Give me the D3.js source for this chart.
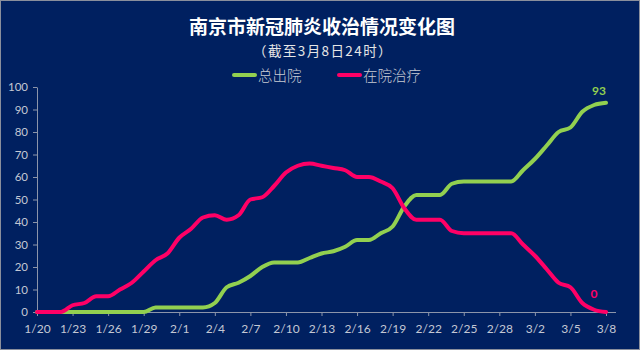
<!DOCTYPE html>
<html><head><meta charset="utf-8">
<script src="https://cdn.jsdelivr.net/npm/d3@7"></script>
<style>html,body{margin:0;padding:0;background:#002060;}svg{display:block;}</style>
</head><body>
<svg id="chart" width="640" height="350"></svg>
<script>
const dates = ["1/20","1/21","1/22","1/23","1/24","1/25","1/26","1/27","1/28","1/29","1/30","1/31",
"2/1","2/2","2/3","2/4","2/5","2/6","2/7","2/8","2/9","2/10","2/11","2/12","2/13","2/14","2/15","2/16","2/17","2/18","2/19","2/20","2/21","2/22","2/23","2/24","2/25","2/26","2/27","2/28","2/29",
"3/1","3/2","3/3","3/4","3/5","3/6","3/7","3/8"];
const discharged = [0,0,0,0,0,0,0,0,0,0,2,2,2,2,2,4,11,13,16,20,22,22,22,24,26,27,29,32,32,35,38,47,52,52,52,57,58,58,58,58,58,63,68,74,80,82,89,92,93];
const inHospital = [0,0,0,3,4,7,7,10,13,18,23,26,33,37,42,43,41,43,50,51,56,62,65,66,65,64,63,60,60,58,55,46,41,41,41,36,35,35,35,35,35,30,25,19,13,11,4,1,0];
const seriesNames = ["总出院","在院治疗"];
const yTicks = [0,10,20,30,40,50,60,70,80,90,100];
const xTickLabels = dates.filter((d,i)=>i%3===0);
const colors = ["#92d050","#ff0066"];

const svg = d3.select("#chart");
svg.append("rect").attr("x",0.5).attr("y",0.5).attr("width",639).attr("height",349)
  .attr("fill","#002060").attr("stroke","#8a8f9c").attr("stroke-width",1);

svg.append("text").attr("x",322).attr("y",34).attr("text-anchor","middle")
  .attr("font-family","Noto Sans CJK SC").attr("font-weight","bold").attr("font-size",19)
  .attr("fill","#ffffff").text("南京市新冠肺炎收治情况变化图");
svg.append("text").attr("x",323).attr("y",56).attr("text-anchor","middle")
  .attr("font-family","Noto Sans CJK SC").attr("font-weight","normal").attr("font-size",13.5)
  .attr("letter-spacing",1.4)
  .attr("fill","#e6e6e6").text("（截至3月8日24时）");

const x = d3.scalePoint().domain(dates).range([37,606]);
const y = d3.scaleLinear().domain([0,100]).range([312,87]);

const axisColor = "#8c95aa";
const labelColor = "#c4c8d4";

// Y axis
const yAxis = svg.append("g").attr("transform","translate(37,0)")
  .call(d3.axisLeft(y).tickValues(yTicks).tickSize(4).tickSizeOuter(0).tickPadding(5));
yAxis.selectAll("path,line").attr("stroke",axisColor);
yAxis.selectAll("text").attr("fill",labelColor).attr("font-family","Lato").attr("font-size",11.5);

// X axis
const xAxis = svg.append("g").attr("transform","translate(0,312)")
  .call(d3.axisBottom(x).tickValues(xTickLabels).tickSize(4).tickSizeOuter(0).tickPadding(8));
xAxis.select(".domain").attr("d","M37,0.5H616");
xAxis.selectAll("path,line").attr("stroke",axisColor);
xAxis.selectAll("text").attr("fill",labelColor).attr("font-family","Lato").attr("font-size",12);

// Lines
const series = [discharged, inHospital];
const line = d3.line().x((d,i)=>x(dates[i])).y(d=>y(d)).curve(d3.curveMonotoneX);
series.forEach((s,k)=>{
  svg.append("path").datum(s).attr("d",line).attr("fill","none")
    .attr("stroke",colors[k]).attr("stroke-width",4).attr("stroke-linejoin","round").attr("stroke-linecap","round");
});

// End labels
const last = dates.length-1;
svg.append("text").attr("x",x(dates[last])-7).attr("y",y(discharged[last])-8)
  .attr("text-anchor","middle").attr("font-family","Lato").attr("font-weight","bold").attr("font-size",12)
  .attr("fill",colors[0]).text(discharged[last]);
svg.append("text").attr("x",x(dates[last])-12).attr("y",y(inHospital[last])-14)
  .attr("text-anchor","middle").attr("font-family","Lato").attr("font-weight","bold").attr("font-size",12)
  .attr("fill",colors[1]).text(inHospital[last]);

// Legend
const legendX = [234,339];
seriesNames.forEach((n,k)=>{
  svg.append("line").attr("x1",legendX[k]).attr("x2",legendX[k]+21).attr("y1",75).attr("y2",75)
    .attr("stroke",colors[k]).attr("stroke-width",4).attr("stroke-linecap","round");
  svg.append("text").attr("x",legendX[k]+24).attr("y",81)
    .attr("font-family","Noto Sans CJK SC").attr("font-weight","300").attr("font-size",14.5)
    .attr("fill","#c8cbd4").text(n);
});
</script>
</body></html>
